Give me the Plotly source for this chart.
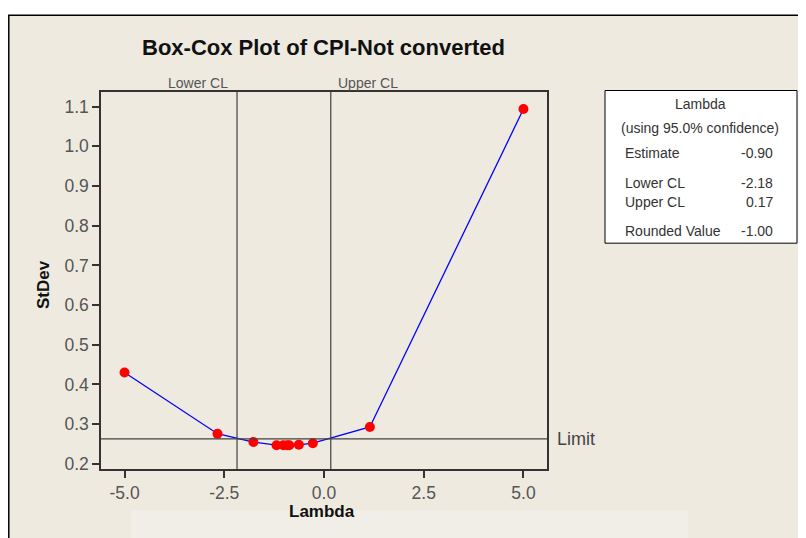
import plotly.graph_objects as go

# Data
lambdas = [-5.0, -2.67, -1.77, -1.19, -1.02, -0.92, -0.87, -0.63, -0.28, 1.15, 5.0]
stdev = [0.430, 0.276, 0.255, 0.247, 0.247, 0.247, 0.247, 0.248, 0.252, 0.293, 1.094]
lower_cl = -2.18
upper_cl = 0.17
limit = 0.263
x_ticks = [-5.0, -2.5, 0.0, 2.5, 5.0]
y_ticks = [0.2, 0.3, 0.4, 0.5, 0.6, 0.7, 0.8, 0.9, 1.0, 1.1]
table_rows = [("Estimate", "-0.90"), ("Lower CL", "-2.18"), ("Upper CL", "0.17"), ("Rounded Value", "-1.00")]

BG = "#EEEAE0"
FONT = "Liberation Sans, Arial, sans-serif"
FONT_B = "Liberation Sans, Arial, sans-serif"

OFF = 8  # browser body margin
W, H = 806 - OFF, 538 - OFF
L, R, T, B = 101, 547, 91.5, 469.3  # plot area in page pixels

def px(x):
    return (x - L) / (R - L)

def py(y):
    return (B - y) / (B - T)

fig = go.Figure()
fig.add_trace(go.Scatter(
    x=lambdas, y=stdev, mode="lines+markers",
    line=dict(color="#0000FF", width=1.3),
    marker=dict(color="#FF0000", size=10, line=dict(width=0)),
    showlegend=False, cliponaxis=False,
))

shapes = []
# outer frame with beige fill
shapes.append(dict(type="rect", xref="paper", yref="paper", x0=px(8.8), x1=px(900), y0=py(700), y1=py(14.5),
                   line=dict(color="#000000", width=1.5), fillcolor=BG, layer="below"))
# faint lighter patch bottom
shapes.append(dict(type="rect", xref="paper", yref="paper", x0=px(131), x1=px(688), y0=py(560), y1=py(510.5),
                   line=dict(width=0), fillcolor="#F1EEE7", layer="below"))
# legend box
shapes.append(dict(type="rect", xref="paper", yref="paper", x0=px(605), x1=px(797), y0=py(243), y1=py(90),
                   line=dict(color="#000000", width=1), fillcolor="#FFFFFF"))
# CL lines
for v in (lower_cl, upper_cl):
    shapes.append(dict(type="line", xref="x", yref="paper", x0=v, x1=v, y0=0, y1=1,
                       line=dict(color="#404040", width=1.2)))
# limit line
shapes.append(dict(type="line", xref="paper", yref="y", x0=0, x1=1, y0=limit, y1=limit,
                   line=dict(color="#404040", width=1.2)))

ann = []
ann.append(dict(text="<b>Box-Cox Plot of CPI-Not converted</b>", xref="paper", yref="paper",
                x=px(323), y=py(47), xanchor="center", yanchor="middle", showarrow=False,
                font=dict(family=FONT_B, size=22, color="#111111")))
ann.append(dict(text="Lower CL", xref="x", yref="paper", x=lower_cl, y=py(82), xanchor="right",
                yanchor="middle", xshift=-7, showarrow=False, font=dict(family=FONT, size=14, color="#555555")))
ann.append(dict(text="Upper CL", xref="x", yref="paper", x=upper_cl, y=py(82), xanchor="left",
                yanchor="middle", xshift=5, showarrow=False, font=dict(family=FONT, size=14, color="#555555")))
ann.append(dict(text="Limit", xref="paper", yref="y", x=px(555), y=limit, xanchor="left",
                yanchor="middle", showarrow=False, font=dict(family=FONT, size=18, color="#444444")))
ann.append(dict(text="<b>StDev</b>", xref="paper", yref="paper", x=px(43), y=py(285), textangle=-90,
                xanchor="center", yanchor="middle", showarrow=False, font=dict(family=FONT_B, size=17, color="#111111")))
ann.append(dict(text="<b>Lambda</b>", xref="paper", yref="paper", x=px(322), y=py(512),
                xanchor="center", yanchor="middle", showarrow=False, font=dict(family=FONT_B, size=17, color="#111111")))
# table
ann.append(dict(text="Lambda", xref="paper", yref="paper", x=px(700), y=py(104), xanchor="center",
                yanchor="middle", showarrow=False, font=dict(family=FONT, size=14, color="#333333")))
ann.append(dict(text="(using 95.0% confidence)", xref="paper", yref="paper", x=px(700), y=py(128),
                xanchor="center", yanchor="middle", showarrow=False, font=dict(family=FONT, size=14, color="#333333")))
row_y = [153, 183, 202, 231]
for (lab, val), yy in zip(table_rows, row_y):
    ann.append(dict(text=lab, xref="paper", yref="paper", x=px(623), y=py(yy), xanchor="left",
                    yanchor="middle", showarrow=False, font=dict(family=FONT, size=14, color="#333333")))
    ann.append(dict(text=val, xref="paper", yref="paper", x=px(775), y=py(yy), xanchor="right",
                    yanchor="middle", showarrow=False, font=dict(family=FONT, size=14, color="#333333")))

fig.update_layout(
    width=W, height=H,
    margin=dict(l=L - OFF, r=W - (R - OFF), t=T - OFF, b=H - (B - OFF), pad=0),
    paper_bgcolor="#FFFFFF", plot_bgcolor="#FFFFFF",
    shapes=shapes, annotations=ann,
    xaxis=dict(range=[-5.59, 5.59], tickvals=x_ticks, ticktext=[f"{v:.1f}" for v in x_ticks],
               ticks="outside", ticklen=7, tickcolor="#333333", tickwidth=1.5, showgrid=False, zeroline=False,
               showline=True, linecolor="#333333", linewidth=1.5, mirror=True,
               tickfont=dict(family=FONT, size=17.5, color="#555555")),
    yaxis=dict(range=[0.187, 1.137], tickvals=y_ticks, ticktext=[f"{v:.1f}" for v in y_ticks],
               ticks="outside", ticklen=7, tickcolor="#333333", tickwidth=1.5, showgrid=False, zeroline=False,
               showline=True, linecolor="#333333", linewidth=1.5, mirror=True,
               tickfont=dict(family=FONT, size=17.5, color="#555555")),
)

fig.write_html("out.html")
